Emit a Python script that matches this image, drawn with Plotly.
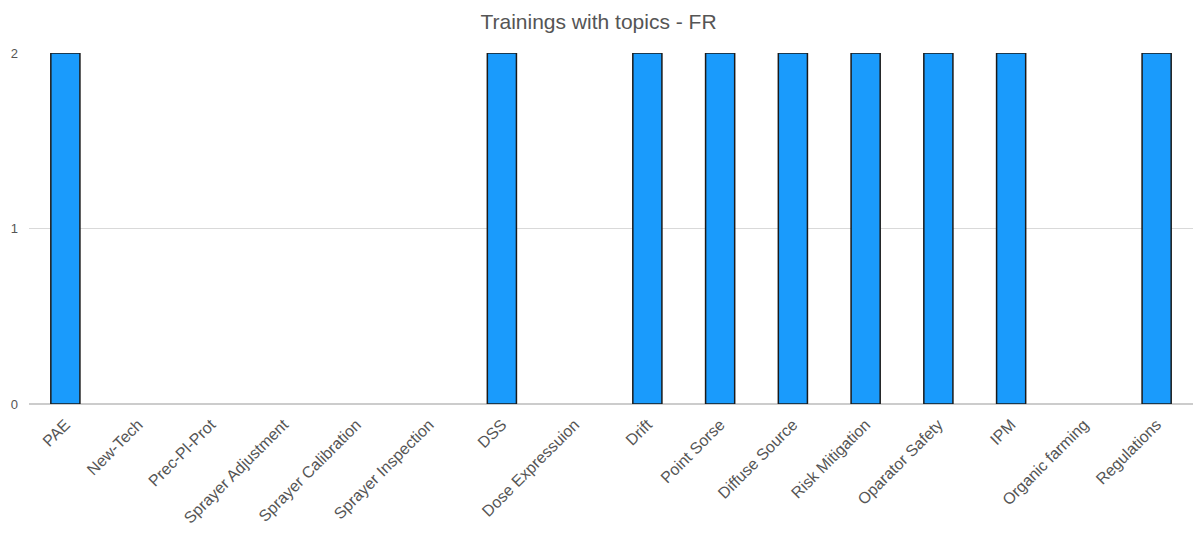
import plotly.graph_objects as go

topics = ["PAE", "New-Tech", "Prec-Pl-Prot", "Sprayer Adjustment", "Sprayer Calibration",
          "Sprayer Inspection", "DSS", "Dose Expressuion", "Drift", "Point Sorse",
          "Diffuse Source", "Risk Mitigation", "Oparator Safety", "IPM",
          "Organic farming", "Regulations"]
trainings = [2, 0, 0, 0, 0, 0, 2, 0, 2, 2, 2, 2, 2, 2, 0, 2]
y_ticks = [0, 1, 2]

# Outline only bars that have a height, so empty categories stay blank
outline_widths = [1.5 if v > 0 else 0 for v in trainings]

fig = go.Figure(go.Bar(
    x=topics, y=trainings,
    marker=dict(color="#1a9bfc", line=dict(color="#1a1a1a", width=outline_widths)),
))

fig.update_layout(
    width=1197, height=540,
    margin=dict(l=29, r=4, t=53, b=136),
    paper_bgcolor="white", plot_bgcolor="white",
    bargap=0.6,
    showlegend=False,
    font=dict(family="Arial, Liberation Sans, sans-serif", color="#555555"),
    title=dict(text="Trainings with topics - FR", x=0.5, xanchor="center",
               y=1 - 22 / 540, yanchor="middle",
               font=dict(size=21, color="#555555")),
)
fig.update_xaxes(tickangle=-45, tickfont=dict(size=16, color="#555555"),
                 showgrid=False, showline=True, linecolor="#cccccc", linewidth=1,
                 ticks="", ticklen=0, ticklabelstandoff=4)
fig.update_yaxes(range=[0, 2], tickvals=y_ticks, tickfont=dict(size=13, color="#555555"),
                 showgrid=True, gridcolor="#d9d9d9", gridwidth=1,
                 zeroline=True, zerolinecolor="#cccccc", ticks="", ticklabelstandoff=10)

fig.write_html("out.html")
